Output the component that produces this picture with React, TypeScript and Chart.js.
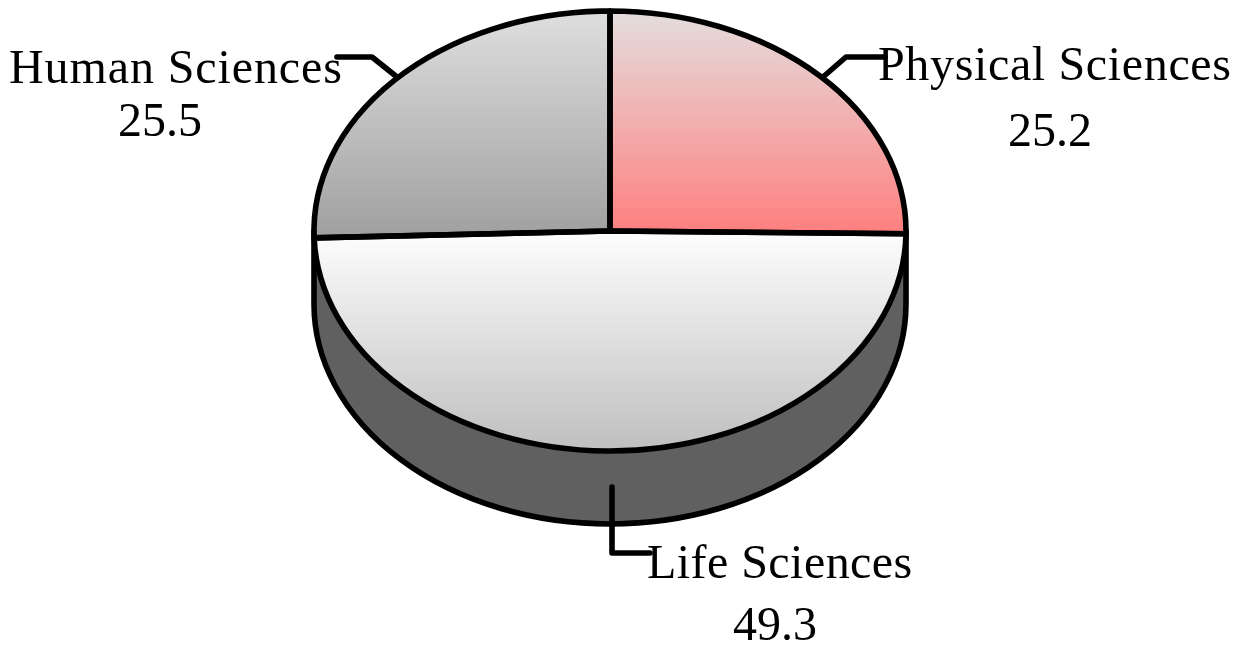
import React, { useEffect, useRef } from "react";
import { Chart, registerables } from "chart.js";

Chart.register(...registerables);

const categories = ["Physical Sciences", "Life Sciences", "Human Sciences"];
const values = [25.2, 49.3, 25.5];
const valueLabels = ["25.2", "49.3", "25.5"];
const gradientTop = ["#e4dddd", "#fdfdfd", "#dedede"];
const gradientBottom = ["#ff8080", "#bfbfbf", "#a0a0a0"];

const CX = 610;
const CY = 231;
const RX = 296;
const RY = 220;
const DEPTH = 73;
const K = RY / RX;
const LW = 5.6;

function applyTilt(ctx: CanvasRenderingContext2D, x: number, y: number) {
  ctx.translate(x, CY);
  ctx.scale(1, K);
  ctx.translate(-x, -y);
}

const tiltPlugin = {
  id: "tilt",
  beforeDatasetsDraw(chart: any) {
    const { ctx } = chart;
    const arc = chart.getDatasetMeta(0).data[0];
    const r = arc.outerRadius;
    ctx.save();
    ctx.beginPath();
    ctx.moveTo(arc.x + r, CY);
    ctx.lineTo(arc.x + r, CY + DEPTH);
    ctx.ellipse(arc.x, CY + DEPTH, r, r * K, 0, 0, Math.PI);
    ctx.lineTo(arc.x - r, CY);
    ctx.closePath();
    ctx.fillStyle = "#606060";
    ctx.fill();
    ctx.lineWidth = LW;
    ctx.strokeStyle = "#000";
    ctx.lineJoin = "round";
    ctx.stroke();
    ctx.restore();
    ctx.save();
    applyTilt(ctx, arc.x, arc.y);
  },
  afterDatasetsDraw(chart: any) {
    const { ctx } = chart;
    ctx.restore();
    const arcs = chart.getDatasetMeta(0).data;
    ctx.save();
    ctx.lineWidth = LW;
    ctx.strokeStyle = "#000";
    ctx.lineJoin = "round";
    ctx.lineCap = "round";
    for (const a of arcs) {
      ctx.save();
      applyTilt(ctx, a.x, a.y);
      ctx.beginPath();
      ctx.moveTo(a.x, a.y);
      ctx.arc(a.x, a.y, a.outerRadius, a.startAngle, a.endAngle);
      ctx.closePath();
      ctx.restore();
      ctx.stroke();
    }
    const leaders = [
      [[823, 77], [846, 57], [885, 57]],
      [[612, 487], [612, 553], [650, 553]],
      [[397, 77], [372, 57], [337, 57]],
    ];
    for (const l of leaders) {
      ctx.beginPath();
      l.forEach(([x, y], i) => (i ? ctx.lineTo(x, y) : ctx.moveTo(x, y)));
      ctx.stroke();
    }
    ctx.fillStyle = "#000";
    ctx.font = '48px "Liberation Serif"';
    ctx.textBaseline = "alphabetic";
    const place = [
      { nameX: 878, nameY: 80, valX: 1050, valY: 146, spacing: "0.65px" },
      { nameX: 647, nameY: 578, valX: 775, valY: 640, spacing: "0.45px" },
      { nameX: 9, nameY: 83, valX: 160, valY: 136, spacing: "0.9px" },
    ];
    categories.forEach((name, i) => {
      ctx.textAlign = "left";
      (ctx as any).letterSpacing = place[i].spacing;
      ctx.fillText(name, place[i].nameX, place[i].nameY);
      (ctx as any).letterSpacing = "0px";
      ctx.textAlign = "center";
      ctx.fillText(valueLabels[i], place[i].valX, place[i].valY);
    });
    ctx.restore();
  },
};

export default function App() {
  const ref = useRef<HTMLCanvasElement>(null);
  useEffect(() => {
    const canvas = ref.current!;
    const ctx = canvas.getContext("2d")!;
    const toPie = (y: number) => 324 + (y - CY) / K;
    const spans = [
      [12, 231],
      [233, 451],
      [12, 236],
    ];
    const fills = spans.map(([a, b], i) => {
      const g = ctx.createLinearGradient(0, toPie(a), 0, toPie(b));
      g.addColorStop(0, gradientTop[i]);
      g.addColorStop(1, gradientBottom[i]);
      return g;
    });
    const chart = new Chart(canvas, {
      type: "pie",
      data: {
        labels: categories,
        datasets: [{ data: values, backgroundColor: fills, borderWidth: 0 }],
      },
      options: {
        responsive: false,
        animation: false,
        radius: RX,
        layout: { padding: { right: 26 } },
        plugins: { legend: { display: false }, tooltip: { enabled: false } },
      } as any,
      plugins: [tiltPlugin],
    });
    return () => chart.destroy();
  }, []);
  return (
    <div style={{ position: "absolute", left: 0, top: 0, width: 1246, height: 648, background: "#fff" }}>
      <canvas ref={ref} width={1246} height={648} style={{ display: "block" }} />
    </div>
  );
}
